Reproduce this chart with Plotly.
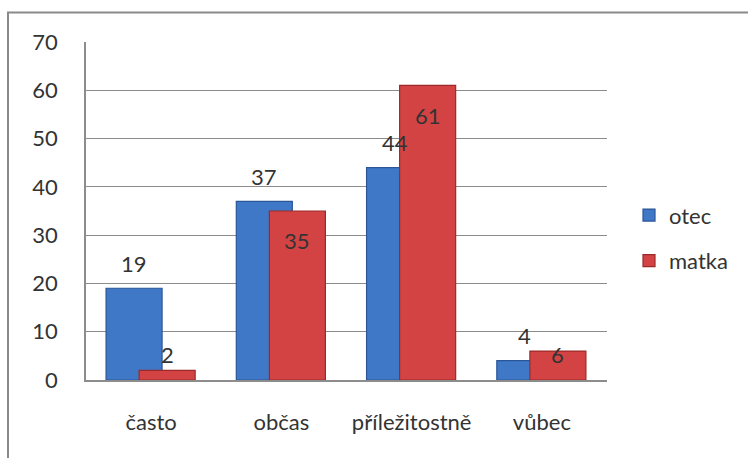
import plotly.graph_objects as go

categories = ["často", "občas", "příležitostně", "vůbec"]
otec = [19, 37, 44, 4]
matka = [2, 35, 61, 6]
series_names = ["otec", "matka"]
y_ticks = [0, 10, 20, 30, 40, 50, 60, 70]

FONT = "Lato"
TXT = "#333333"
FS = 22
W, H = 748, 458
L, R, T, B = 86, 141, 41.5, 78
plot_w = W - L - R
plot_h = H - T - B

bar_w = 0.43
off_blue = -0.346
off_red = -0.092

idx = list(range(len(categories)))

fig = go.Figure()
fig.add_trace(go.Bar(
    x=idx, y=otec, name=series_names[0], legendgroup="a",
    width=bar_w, offset=off_blue,
    marker=dict(color="#4078c8", line=dict(color="#2a5596", width=1.2)),
))
fig.add_trace(go.Bar(
    x=idx, y=matka, name=series_names[1], legendgroup="b",
    width=bar_w, offset=off_red,
    marker=dict(color="#d44343", line=dict(color="#9a2a2a", width=1.2)),
))

ann = []
for i, v in enumerate(otec):
    ann.append(dict(x=i + off_blue + bar_w / 2, y=v + 5.2, text=str(v),
                    showarrow=False, xref="x", yref="y",
                    font=dict(family=FONT, size=FS, color=TXT)))
for i, v in enumerate(matka):
    ann.append(dict(x=i + off_red + bar_w / 2, y=max(v - 6.2, 5.3), text=str(v),
                    showarrow=False, xref="x", yref="y",
                    font=dict(family=FONT, size=FS, color=TXT)))

# outer chart border (left and top visible)
px2x = lambda p: (p - L) / plot_w
py2y = lambda p: (H - B - p) / plot_h
shapes = [dict(type="rect", xref="paper", yref="paper",
               x0=px2x(8), x1=px2x(W + 20), y0=py2y(H + 20), y1=py2y(12),
               line=dict(color="#8a8a8a", width=2), fillcolor="rgba(0,0,0,0)",
               layer="below")]

fig.update_layout(
    width=W, height=H,
    margin=dict(l=L, r=R, t=T, b=B, pad=0),
    paper_bgcolor="white", plot_bgcolor="white",
    barmode="overlay",
    font=dict(family=FONT, size=FS, color=TXT),
    annotations=ann,
    shapes=shapes,
    showlegend=True,
    legend=dict(x=px2x(629), y=py2y(194), xanchor="left", yanchor="top",
                font=dict(family=FONT, size=FS, color=TXT),
                tracegroupgap=14, bgcolor="rgba(0,0,0,0)"),
    xaxis=dict(range=[-0.5, len(categories) - 0.5], tickmode="array",
               tickvals=idx, ticktext=categories, showgrid=False,
               showline=True, linecolor="#8c8c8c", linewidth=1.5,
               ticks="", ticklabelstandoff=22, zeroline=False,
               tickfont=dict(family=FONT, size=FS, color=TXT)),
    yaxis=dict(range=[0, 70], tickmode="array", tickvals=y_ticks,
               showgrid=True, gridcolor="#8c8c8c", gridwidth=1.2,
               showline=True, linecolor="#8c8c8c", linewidth=1.5,
               zeroline=False, ticks="", ticklabelstandoff=22,
               tickfont=dict(family=FONT, size=FS, color=TXT)),
)

fig.write_html("out.html")
